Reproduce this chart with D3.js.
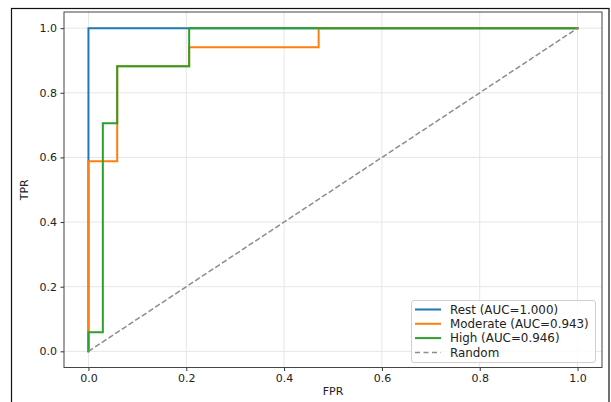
<!DOCTYPE html>
<html>
<head>
<meta charset="utf-8">
<script src="https://cdn.jsdelivr.net/npm/d3@7"></script>
<style>
  html, body { margin: 0; padding: 0; background: #fff; }
  svg { display: block; font-family: "DejaVu Sans", sans-serif; }
</style>
</head>
<body>
<svg id="chart" width="611" height="402"></svg>
<script>
// ROC curves per class: step points (FPR, TPR)
const restFpr = [0, 0, 1];
const restTpr = [0, 1, 1];
const moderateFpr = [0, 0, 0.0588, 0.0588, 0.2059, 0.2059, 0.4706, 0.4706, 1];
const moderateTpr = [0, 0.5882, 0.5882, 0.8824, 0.8824, 0.9412, 0.9412, 1, 1];
const highFpr = [0, 0, 0.0294, 0.0294, 0.0588, 0.0588, 0.2059, 0.2059, 1];
const highTpr = [0, 0.0588, 0.0588, 0.7059, 0.7059, 0.8824, 0.8824, 1, 1];
const randomFpr = [0, 1];
const randomTpr = [0, 1];

const seriesNames = ["Rest (AUC=1.000)", "Moderate (AUC=0.943)", "High (AUC=0.946)", "Random"];
const tickValues = [0, 0.2, 0.4, 0.6, 0.8, 1.0];
const xLabel = "FPR";
const yLabel = "TPR";

const svg = d3.select("#chart");

// outer figure frame
svg.append("rect")
  .attr("x", 11.5).attr("y", 8.5)
  .attr("width", 597.5).attr("height", 400)
  .attr("fill", "none").attr("stroke", "#111").attr("stroke-width", 1.2);

const plotL = 64, plotR = 602, plotT = 12, plotB = 367.5;
const x = d3.scaleLinear().domain([-0.05, 1.05]).range([plotL, plotR]);
const y = d3.scaleLinear().domain([-0.05, 1.05]).range([plotB, plotT]);

// grid
const grid = svg.append("g");
grid.selectAll(".gx").data(tickValues).join("line")
  .attr("x1", d => x(d)).attr("x2", d => x(d))
  .attr("y1", plotT).attr("y2", plotB)
  .attr("stroke", "#e6e6e6").attr("stroke-width", 1);
grid.selectAll(".gy").data(tickValues).join("line")
  .attr("y1", d => y(d)).attr("y2", d => y(d))
  .attr("x1", plotL).attr("x2", plotR)
  .attr("stroke", "#e6e6e6").attr("stroke-width", 1);

const series = [
  { fpr: restFpr, tpr: restTpr, color: "#1f77b4", dash: null },
  { fpr: moderateFpr, tpr: moderateTpr, color: "#ff7f0e", dash: null },
  { fpr: highFpr, tpr: highTpr, color: "#2ca02c", dash: null },
  { fpr: randomFpr, tpr: randomTpr, color: "#8c8c8c", dash: "5.5,2.5" }
];

const line = d3.line().x(d => x(d[0])).y(d => y(d[1]));

const plot = svg.append("g");
series.forEach(s => {
  plot.append("path")
    .datum(s.fpr.map((f, i) => [f, s.tpr[i]]))
    .attr("d", line)
    .attr("fill", "none")
    .attr("stroke", s.color)
    .attr("stroke-width", s.dash ? 1.5 : 2)
    .attr("stroke-dasharray", s.dash)
    .attr("stroke-linejoin", "miter")
    .attr("stroke-linecap", s.dash ? "butt" : "square");
});

// axes
const fmt = d3.format(".1f");
const xAxis = svg.append("g").attr("transform", `translate(0,${plotB})`)
  .call(d3.axisBottom(x).tickValues(tickValues).tickFormat(fmt).tickSize(3.5).tickPadding(3.5));
const yAxis = svg.append("g").attr("transform", `translate(${plotL},0)`)
  .call(d3.axisLeft(y).tickValues(tickValues).tickFormat(fmt).tickSize(3.5).tickPadding(3.5));
[xAxis, yAxis].forEach(a => {
  a.select(".domain").remove();
  a.selectAll("line").attr("stroke", "#333");
  a.selectAll("text").attr("fill", "#222")
    .style("font-family", "DejaVu Sans").style("font-size", "11px");
});

// spines
svg.append("rect")
  .attr("x", plotL).attr("y", plotT)
  .attr("width", plotR - plotL).attr("height", plotB - plotT)
  .attr("fill", "none").attr("stroke", "#444").attr("stroke-width", 1);

svg.append("text").attr("x", (plotL + plotR) / 2).attr("y", 395)
  .attr("text-anchor", "middle").attr("fill", "#222")
  .style("font-size", "11px").text(xLabel);
svg.append("text")
  .attr("transform", `translate(28,${(plotT + plotB) / 2}) rotate(-90)`)
  .attr("text-anchor", "middle").attr("fill", "#222")
  .style("font-size", "11px").text(yLabel);

// legend
const lg = svg.append("g");
lg.append("rect")
  .attr("x", 411.5).attr("y", 300.5).attr("width", 184).attr("height", 62)
  .attr("rx", 2.5)
  .attr("fill", "#fff").attr("fill-opacity", 0.85)
  .attr("stroke", "#d0d0d0").attr("stroke-width", 1);
series.forEach((s, i) => {
  const cy = 309.5 + i * 14.3;
  lg.append("line")
    .attr("x1", 415).attr("x2", 441).attr("y1", cy).attr("y2", cy)
    .attr("stroke", s.color)
    .attr("stroke-width", s.dash ? 1.5 : 2)
    .attr("stroke-dasharray", s.dash ? "5,3.5" : null);
  lg.append("text")
    .attr("x", 450).attr("y", cy).attr("dy", "0.36em")
    .attr("fill", "#222")
    .style("font-size", "11.9px")
    .text(seriesNames[i]);
});
</script>
</body>
</html>
